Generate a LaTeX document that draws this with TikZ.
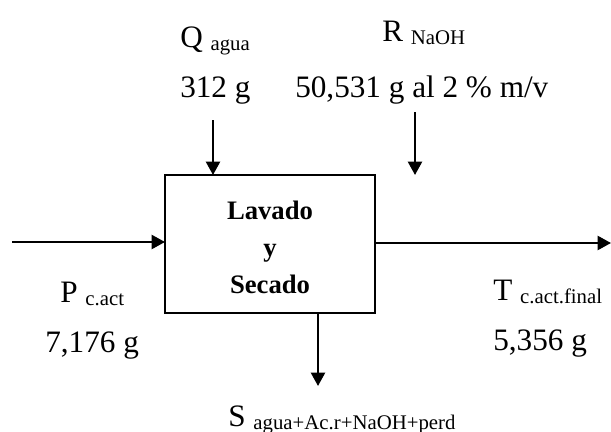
\documentclass[tikz,border=0pt]{standalone}
\usepackage{fontspec}
\setmainfont{Liberation Serif}
\usetikzlibrary{arrows.meta}
\newcommand{\mainsz}{\fontsize{23.4pt}{27pt}\selectfont}
\newcommand{\subtx}[1]{\raisebox{-2.4pt}{\fontsize{15.6pt}{18pt}\selectfont #1}}
\begin{document}
\begin{tikzpicture}[x=0.75pt,y=-0.75pt,
  flow/.style={line width=1.7pt,-{Triangle[length=10pt,width=10.5pt]}},
  proc/.style={draw,line width=1.7pt,minimum width=157.5pt,minimum height=103.5pt,inner sep=0pt,outer sep=0pt},
  lbl/.style={anchor=base west,inner sep=0pt,font=\mainsz},
  boldlbl/.style={anchor=base,inner sep=0pt,font=\fontsize{20pt}{24pt}\selectfont\bfseries}]
\useasboundingbox (0,0) rectangle (611,432);
\node[proc] (box) at (270,244) {};
\node[boldlbl] (l1) at (270,219) {Lavado};
\node[boldlbl] (l2) at (270,256) {y};
\node[boldlbl] (l3) at (270,293) {Secado};
% labels
\node[lbl] (qn) at (180,47) {Q \subtx{agua}};
\node[lbl] (qv) at (180,97) {312 g};
\node[lbl] (rn) at (382,41) {R \subtx{NaOH}};
\node[lbl] (rv) at (295,97) {50,531 g al 2 \% m/v};
\node[lbl] (pn) at (60,302) {P \subtx{c.act}};
\node[lbl] (pv) at (45,352) {7,176 g};
\node[lbl] (tn) at (493,300) {T \subtx{c.act.final}};
\node[lbl] (tv) at (493,350) {5,356 g};
\node[lbl] (sn) at (228,426) {S \subtx{agua+Ac.r+NaOH+perd}};
% connector ends
\coordinate (pin) at (12,242);
\coordinate (tout) at (611,243);
\coordinate (qin) at (213,120);
\coordinate (rin) at (415,112);
\coordinate (sout) at (318,386);
\draw[flow] (pin) -- (pin -| box.west);
\draw[flow] (tout -| box.east) -- (tout);
\draw[flow] (qin) -- (qin |- box.north);
\draw[flow] (rin) -- (rin |- box.north);
\draw[flow] (sout |- box.south) -- (sout);
\end{tikzpicture}
\end{document}
